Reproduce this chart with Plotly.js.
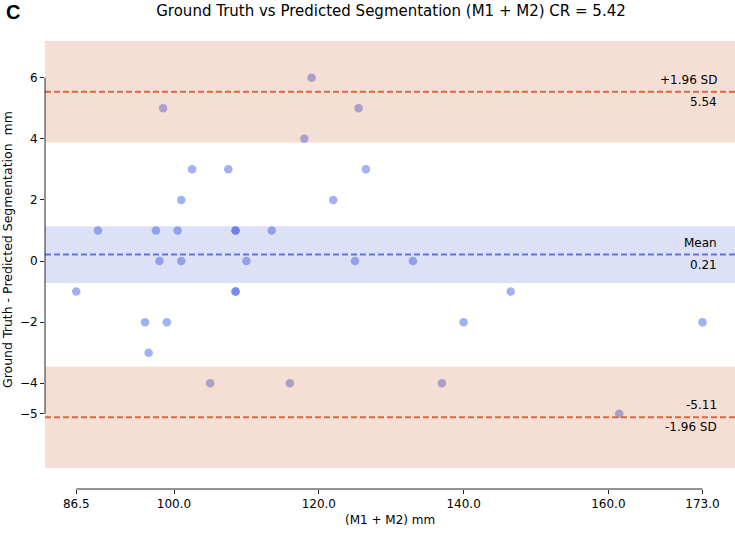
<!DOCTYPE html>
<html>
<head>
<meta charset="utf-8">
<script src="https://cdn.plot.ly/plotly-3.0.1.min.js"></script>
<style>html,body{margin:0;padding:0;background:#fff;}#chart{width:735px;height:533px;}</style>
</head>
<body>
<div id="chart"></div>
<script>
// Data
const meanVals = [119.0, 98.5, 118.0, 102.5, 107.5, 101.0, 89.5, 97.5, 100.5, 108.5, 108.5, 113.5, 98.0, 101.0, 110.0, 86.5, 108.5, 108.5, 96.0, 99.0, 96.5, 105.0, 116.0, 125.5, 126.5, 122.0, 125.0, 133.0, 146.5, 140.0, 173.0, 137.0, 161.5];
const diffVals = [6, 5, 4, 3, 3, 2, 1, 1, 1, 1, 1, 1, 0, 0, 0, -1, -1, -1, -2, -2, -3, -4, -4, 5, 3, 2, 0, 0, -1, -2, -2, -4, -5];
const meanDiff = 0.21;
const upperLoA = 5.54;
const lowerLoA = -5.11;
const loaCI = 1.66;
const meanCI = 0.93;
const xTickVals = [86.5, 100.0, 120.0, 140.0, 160.0, 173.0];
const xTickText = ["86.5", "100.0", "120.0", "140.0", "160.0", "173.0"];
const yTickVals = [-5, -4, -2, 0, 2, 4, 6];
const yTickText = ["\u22125", "\u22124", "\u22122", "0", "2", "4", "6"];

const FONT = "DejaVu Sans";
const W = 735, H = 533;
const mL = 45, mR = 0, mT = 41, mB = 44;
const xMin = Math.min(...xTickVals), xMax = Math.max(...xTickVals);

const trace = {
  type: "scatter", mode: "markers",
  x: meanVals, y: diffVals,
  marker: {size: 8.5, color: "rgb(70,99,229)", opacity: 0.5, line: {width: 0}},
  hoverinfo: "x+y"
};

const orange = "#d8683f";
const blueLine = "#5f75e8";
const shapes = [
  {type: "rect", xref: "paper", yref: "y", x0: 0, x1: 1, y0: upperLoA - loaCI, y1: upperLoA + loaCI, fillcolor: "rgba(205,95,45,0.2)", line: {width: 0}, layer: "above"},
  {type: "rect", xref: "paper", yref: "y", x0: 0, x1: 1, y0: lowerLoA - loaCI, y1: lowerLoA + loaCI, fillcolor: "rgba(205,95,45,0.2)", line: {width: 0}, layer: "above"},
  {type: "rect", xref: "paper", yref: "y", x0: 0, x1: 1, y0: meanDiff - meanCI, y1: meanDiff + meanCI, fillcolor: "rgba(80,105,215,0.2)", line: {width: 0}, layer: "above"},
  {type: "line", xref: "paper", yref: "y", x0: 0, x1: 1, y0: upperLoA, y1: upperLoA, line: {color: orange, width: 2, dash: "6px,3px"}, layer: "above"},
  {type: "line", xref: "paper", yref: "y", x0: 0, x1: 1, y0: lowerLoA, y1: lowerLoA, line: {color: orange, width: 2, dash: "6px,3px"}, layer: "above"},
  {type: "line", xref: "paper", yref: "y", x0: 0, x1: 1, y0: meanDiff, y1: meanDiff, line: {color: blueLine, width: 2, dash: "6px,3px"}, layer: "above"},
  {type: "line", xref: "paper", yref: "y", x0: 0, x1: 0, y0: Math.min(...yTickVals), y1: Math.max(...yTickVals), line: {color: "#262626", width: 1}},
  {type: "line", xref: "x", yref: "paper", x0: xMin, x1: xMax, y0: 0, y1: 0, line: {color: "#262626", width: 1}}
];

const labX = (719 - mL) / (W - mL - mR);
const lab = (text, y, shift) => ({
  text: text, xref: "paper", yref: "y", x: labX, y: y, xanchor: "right", yanchor: "middle",
  yshift: shift, showarrow: false, font: {family: FONT, size: 12, color: "#000"}
});

const annotations = [
  lab("+1.96 SD", upperLoA, 12),
  lab(upperLoA.toFixed(2), upperLoA, -10),
  lab("Mean", meanDiff, 12),
  lab(meanDiff.toFixed(2), meanDiff, -10),
  lab(lowerLoA.toFixed(2), lowerLoA, 12),
  lab("-1.96 SD", lowerLoA, -10),
  {text: "<b>C</b>", xref: "paper", yref: "paper", x: (13 - mL) / (W - mL - mR), y: 1 + (mT - 12) / (H - mT - mB),
   xanchor: "center", yanchor: "middle", showarrow: false, font: {family: "Liberation Sans", size: 20, color: "#000"}},
  {text: "Ground Truth - Predicted Segmentation  mm", xref: "paper", yref: "paper",
   x: (7 - mL) / (W - mL - mR), y: 1 - (250 - mT) / (H - mT - mB), textangle: -90,
   xanchor: "center", yanchor: "middle", showarrow: false, font: {family: FONT, size: 12.5, color: "#000"}},
  {text: "(M1 + M2) mm", xref: "paper", yref: "paper", x: 0.5, y: -(520 - (H - mB)) / (H - mT - mB),
   xanchor: "center", yanchor: "middle", showarrow: false, font: {family: FONT, size: 12, color: "#000"}}
];

const layout = {
  width: W, height: H,
  margin: {l: mL, r: mR, t: mT, b: mB, pad: 0},
  paper_bgcolor: "#fff", plot_bgcolor: "#fff",
  showlegend: false,
  title: {text: "Ground Truth vs Predicted Segmentation (M1 + M2) CR = 5.42", font: {family: FONT, size: 15, color: "#000"},
          x: 391 / W, xanchor: "center", y: 1 - 11 / H, yanchor: "middle", xref: "container", yref: "container"},
  xaxis: {range: [82.18, 177.49], showgrid: false, zeroline: false, showline: false,
          tickmode: "array", tickvals: xTickVals, ticktext: xTickText,
          ticks: "outside", ticklen: 4, tickwidth: 1, tickcolor: "#262626",
          tickfont: {family: FONT, size: 12, color: "#000"}},
  yaxis: {range: [-7.46, upperLoA + loaCI], showgrid: false, zeroline: false, showline: false,
          tickmode: "array", tickvals: yTickVals, ticktext: yTickText,
          ticks: "outside", ticklen: 4, tickwidth: 1, tickcolor: "#262626",
          tickfont: {family: FONT, size: 12, color: "#000"}},
  shapes: shapes,
  annotations: annotations,
  font: {family: FONT}
};

Plotly.newPlot("chart", [trace], layout, {staticPlot: true, displayModeBar: false});
</script>
</body>
</html>
